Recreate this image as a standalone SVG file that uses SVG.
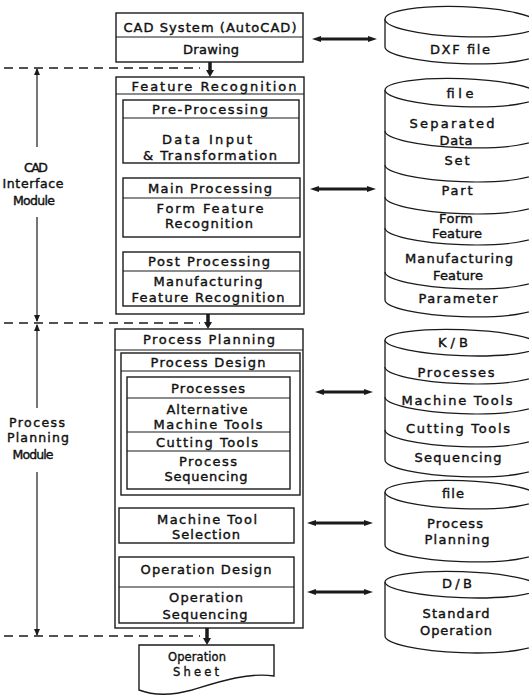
<svg xmlns="http://www.w3.org/2000/svg" width="529" height="698" viewBox="0 0 529 698">
<defs>
<style>
.bx{fill:#fff;stroke:#1a1a1a;stroke-width:1.4}
.dv{fill:none;stroke:#1a1a1a;stroke-width:1.2}
.cy{fill:#fff;stroke:#1a1a1a;stroke-width:1.3}
.t{font-family:"DejaVu Sans","Liberation Sans",Arial,sans-serif;font-size:13px;text-anchor:middle;fill:#111;stroke:#111;stroke-width:0.4}
.l{font-family:"DejaVu Sans","Liberation Sans",Arial,sans-serif;font-size:12.5px;text-anchor:middle;fill:#111;stroke:#111;stroke-width:0.4}
.d{font-family:"DejaVu Sans","Liberation Sans",Arial,sans-serif;font-size:11.5px;text-anchor:middle;fill:#111;stroke:#111;stroke-width:0.35}
.dash{stroke:#1a1a1a;stroke-width:1.3;stroke-dasharray:9 6;fill:none}
.vt{stroke:#1a1a1a;stroke-width:3.5;marker-end:url(#aT)}
.vs{stroke:#1a1a1a;stroke-width:1.6;marker-end:url(#aS)}
.hz{stroke:#1a1a1a;stroke-width:3;marker-start:url(#aH);marker-end:url(#aH)}
.lv{stroke:#1a1a1a;stroke-width:1.2;marker-end:url(#aL)}
</style>
<marker id="aT" viewBox="0 0 7 8" markerWidth="7" markerHeight="8" refX="1" refY="4" orient="auto" markerUnits="userSpaceOnUse"><path d="M0,0L7,4L0,8z" fill="#1a1a1a"/></marker>
<marker id="aS" viewBox="0 0 5 6" markerWidth="5" markerHeight="6" refX="1" refY="3" orient="auto" markerUnits="userSpaceOnUse"><path d="M0,0L5,3L0,6z" fill="#1a1a1a"/></marker>
<marker id="aH" viewBox="0 0 9 6" markerWidth="9" markerHeight="6" refX="3" refY="3" orient="auto-start-reverse" markerUnits="userSpaceOnUse"><path d="M0,0L9,3L0,6z" fill="#1a1a1a"/></marker>
<marker id="aL" viewBox="0 0 7 6" markerWidth="7" markerHeight="6" refX="6" refY="3" orient="auto" markerUnits="userSpaceOnUse"><path d="M0,0L7,3L0,6z" fill="#1a1a1a"/></marker>
</defs>
<rect width="529" height="698" fill="#fff"/>

<g id="connectors">
<line class="dash" x1="4" y1="68" x2="200" y2="68"/>
<line class="dash" x1="4" y1="323" x2="200" y2="323"/>
<line class="dash" x1="4" y1="636" x2="200" y2="636"/>
<line class="vt" x1="210" y1="62" x2="210" y2="71"/>
<line class="vt" x1="208" y1="314" x2="208" y2="323"/>
<line class="vt" x1="207" y1="628" x2="207" y2="639"/>
<line class="vs" x1="210" y1="163" x2="210" y2="174"/>
<line class="vs" x1="210" y1="237" x2="210" y2="248"/>
<line class="vs" x1="207" y1="495" x2="207" y2="504"/>
<line class="vs" x1="207" y1="543" x2="207" y2="553"/>
<line class="hz" x1="318" y1="39" x2="371" y2="39"/>
<line class="hz" x1="316" y1="189" x2="370" y2="189"/>
<line class="hz" x1="321" y1="392" x2="367" y2="392"/>
<line class="hz" x1="313" y1="523" x2="367" y2="523"/>
<line class="hz" x1="313" y1="592" x2="367" y2="592"/>
<line class="lv" x1="37" y1="147" x2="37" y2="69"/>
<line class="lv" x1="37" y1="217" x2="37" y2="321"/>
<line class="lv" x1="37" y1="408" x2="37" y2="325"/>
<line class="lv" x1="37" y1="472" x2="37" y2="635"/>
</g>

<g id="cad-interface-label">
<text class="l" x="36" y="172" textLength="24">CAD</text>
<text class="l" x="33" y="188" textLength="61">Interface</text>
<text class="l" x="34" y="205" textLength="42">Module</text>
</g>
<g id="process-planning-label">
<text class="l" x="37" y="427" textLength="56">Process</text>
<text class="l" x="38" y="442" textLength="62">Planning</text>
<text class="l" x="33" y="459" textLength="41">Module</text>
</g>

<g id="cad-system">
<rect class="bx" x="116" y="13" width="187" height="49"/>
<line class="dv" x1="116" y1="37" x2="303" y2="37"/>
<text class="t" x="210" y="32" textLength="173">CAD System (AutoCAD)</text>
<text class="t" x="211" y="54" textLength="56">Drawing</text>
</g>

<g id="feature-recognition">
<rect class="bx" x="116" y="77" width="188" height="237"/>
<line class="dv" x1="116" y1="94" x2="304" y2="94"/>
<text class="t" x="214" y="91" textLength="165">Feature Recognition</text>
</g>
<g id="pre-processing">
<rect class="bx" x="123" y="100" width="176" height="63"/>
<line class="dv" x1="123" y1="118" x2="299" y2="118"/>
<text class="t" x="210" y="114" textLength="116">Pre-Processing</text>
<text class="t" x="207" y="144" textLength="90">Data Input</text>
<text class="t" x="210" y="160" textLength="134">&amp; Transformation</text>
</g>
<g id="main-processing">
<rect class="bx" x="123" y="178" width="177" height="59"/>
<line class="dv" x1="123" y1="198" x2="300" y2="198"/>
<text class="t" x="210" y="193" textLength="124">Main Processing</text>
<text class="t" x="210" y="213" textLength="107">Form Feature</text>
<text class="t" x="209" y="228" textLength="88">Recognition</text>
</g>
<g id="post-processing">
<rect class="bx" x="123" y="252" width="177" height="54"/>
<line class="dv" x1="123" y1="271" x2="300" y2="271"/>
<text class="t" x="209" y="266" textLength="122">Post Processing</text>
<text class="t" x="208" y="286" textLength="109">Manufacturing</text>
<text class="t" x="208" y="302" textLength="153">Feature Recognition</text>
</g>

<g id="process-planning">
<rect class="bx" x="115" y="329" width="188" height="299"/>
<line class="dv" x1="115" y1="350" x2="303" y2="350"/>
<text class="t" x="209" y="344" textLength="132">Process Planning</text>
</g>
<g id="process-design">
<rect class="bx" x="121" y="353" width="179" height="142"/>
<line class="dv" x1="121" y1="371" x2="300" y2="371"/>
<text class="t" x="208" y="367" textLength="115">Process Design</text>
</g>
<g id="process-design-items">
<rect class="bx" x="127" y="377" width="163" height="112"/>
<line class="dv" x1="127" y1="398" x2="290" y2="398"/>
<line class="dv" x1="127" y1="432" x2="290" y2="432"/>
<line class="dv" x1="127" y1="451" x2="290" y2="451"/>
<text class="t" x="208" y="393" textLength="74">Processes</text>
<text class="t" x="207" y="414" textLength="81">Alternative</text>
<text class="t" x="208" y="429" textLength="109">Machine Tools</text>
<text class="t" x="207" y="447" textLength="102">Cutting Tools</text>
<text class="t" x="208" y="466" textLength="58">Process</text>
<text class="t" x="206" y="481" textLength="83">Sequencing</text>
</g>
<g id="machine-tool-selection">
<rect class="bx" x="119" y="508" width="175" height="35"/>
<text class="t" x="207" y="524" textLength="100">Machine Tool</text>
<text class="t" x="206" y="539" textLength="68">Selection</text>
</g>
<g id="operation-design">
<rect class="bx" x="119" y="557" width="175" height="66"/>
<line class="dv" x1="119" y1="587" x2="294" y2="587"/>
<text class="t" x="206" y="574" textLength="131">Operation Design</text>
<text class="t" x="206" y="602" textLength="74">Operation</text>
<text class="t" x="205" y="619" textLength="85">Sequencing</text>
</g>
<g id="operation-sheet">
<path class="bx" d="M139,645H274V676C248,672 218,682 192,690C170,696 152,695 139,690Z"/>
<text class="d" x="197" y="661" textLength="58">Operation</text>
<text class="d" x="196" y="676" textLength="46">Sheet</text>
</g>

<g id="dxf-file">
<path class="cy" d="M385,19V47A77 14 2 0 0 539,52.4V24.4"/>
<ellipse class="cy" cx="462" cy="21.7" rx="77" ry="15" transform="rotate(2 462 21.7)"/>
<text class="t" x="460" y="54" textLength="60">DXF file</text>
</g>

<g id="feature-file">
<path class="cy" d="M385,90V300A77 14 2 0 0 539,305.4V95.4"/>
<ellipse class="cy" cx="462" cy="92.7" rx="77" ry="14" transform="rotate(2 462 92.7)"/>
<path class="dv" d="M385,131A77 14 2 0 0 539,136.4"/>
<path class="dv" d="M385,165A77 14 2 0 0 539,170.4"/>
<path class="dv" d="M385,197A77 14 2 0 0 539,202.4"/>
<path class="dv" d="M385,228A77 14 2 0 0 539,233.4"/>
<path class="dv" d="M385,272A77 14 2 0 0 539,277.4"/>
<text class="t" x="460" y="98" textLength="27">file</text>
<text class="t" x="452" y="128" textLength="85">Separated</text>
<text class="t" x="456" y="145" textLength="33">Data</text>
<text class="t" x="457" y="165" textLength="25">Set</text>
<text class="t" x="457" y="195" textLength="31">Part</text>
<text class="t" x="456" y="223" textLength="34">Form</text>
<text class="t" x="457" y="238" textLength="50">Feature</text>
<text class="t" x="459" y="263" textLength="108">Manufacturing</text>
<text class="t" x="458" y="280" textLength="50">Feature</text>
<text class="t" x="458" y="303" textLength="79">Parameter</text>
</g>

<g id="knowledge-base">
<path class="cy" d="M385,340V460A77 14 2 0 0 539,465.4V345.4"/>
<ellipse class="cy" cx="462" cy="342.7" rx="77" ry="13" transform="rotate(2 462 342.7)"/>
<path class="dv" d="M385,367A77 14 2 0 0 539,372.4"/>
<path class="dv" d="M385,397A77 14 2 0 0 539,402.4"/>
<path class="dv" d="M385,430A77 14 2 0 0 539,435.4"/>
<text class="t" x="453" y="347" textLength="30">K/B</text>
<text class="t" x="456" y="377" textLength="77">Processes</text>
<text class="t" x="457" y="405" textLength="111">Machine Tools</text>
<text class="t" x="458" y="433" textLength="104">Cutting Tools</text>
<text class="t" x="458" y="462" textLength="87">Sequencing</text>
</g>

<g id="process-planning-file">
<path class="cy" d="M385,492V545A77 14 2 0 0 539,550.4V497.4"/>
<ellipse class="cy" cx="462" cy="494.7" rx="77" ry="14" transform="rotate(2 462 494.7)"/>
<text class="t" x="453" y="498" textLength="22">file</text>
<text class="t" x="455" y="528" textLength="56">Process</text>
<text class="t" x="457" y="544" textLength="65">Planning</text>
</g>

<g id="standard-operation-db">
<path class="cy" d="M385,582V636A77 14 2 0 0 539,641.4V587.4"/>
<ellipse class="cy" cx="462" cy="584.7" rx="77" ry="13" transform="rotate(2 462 584.7)"/>
<text class="t" x="457" y="588" textLength="30">D/B</text>
<text class="t" x="456" y="618" textLength="67">Standard</text>
<text class="t" x="456" y="635" textLength="72">Operation</text>
</g>
</svg>
